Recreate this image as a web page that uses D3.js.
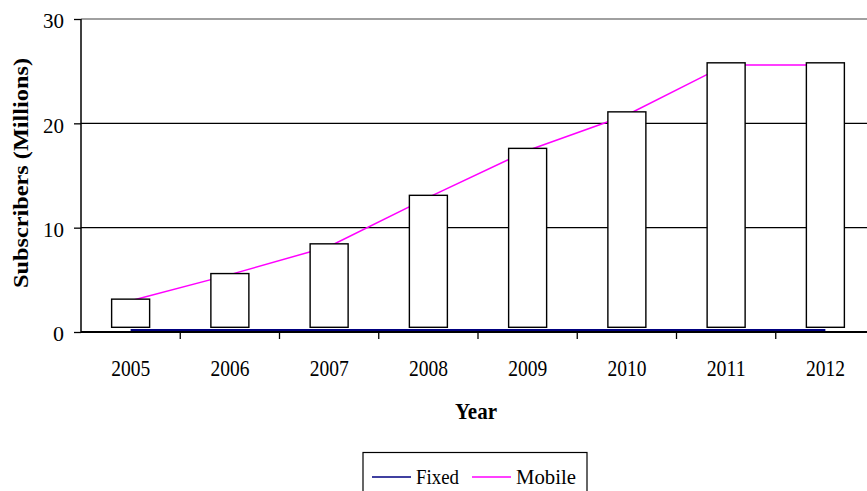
<!DOCTYPE html>
<html><head><meta charset="utf-8">
<script src="https://cdn.jsdelivr.net/npm/d3@7/dist/d3.min.js"></script>
<style>body{margin:0;background:#fff}svg{display:block}</style>
</head><body><svg id="c" width="867" height="491"></svg>
<script>
const years = ["2005","2006","2007","2008","2009","2010","2011","2012"];
const fixed = [0.18,0.18,0.18,0.18,0.18,0.18,0.18,0.18];
const mobile = [3.0,5.5,8.2,12.9,17.4,20.8,25.6,25.6];
const barLow = [0.45,0.45,0.45,0.45,0.45,0.45,0.45,0.45];
const barHigh = [3.15,5.6,8.45,13.1,17.6,21.1,25.8,25.8];
const yTicks = [0,10,20,30];

const FONT = "'Liberation Serif', 'Times New Roman', Times, serif";
const svg = d3.select("#c").attr("font-family", FONT);
const x = d3.scaleBand().domain(years).range([81,875]).padding(0);
const y = d3.scaleLinear().domain([0,30]).range([332,19]);
const cx = d => x(d)+x.bandwidth()/2;

// gridlines
svg.append("g").selectAll("line").data(yTicks.filter(v=>v>0)).join("line")
  .attr("x1",81).attr("x2",875).attr("y1",d=>y(d)).attr("y2",d=>y(d))
  .attr("stroke",d=>d===30?"#808080":"#000").attr("stroke-width",d=>d===30?1.5:1.3);

// lines
const line = d3.line().x((d,i)=>cx(years[i])).y(d=>y(d));
svg.append("path").datum(mobile).attr("d",line).attr("fill","none").attr("stroke","#FF00FF").attr("stroke-width",1.5);
svg.append("path").datum(fixed).attr("d",line).attr("fill","none").attr("stroke","#000080").attr("stroke-width",2);

// up-down bars
const bw = 38;
svg.append("g").selectAll("rect").data(years).join("rect")
  .attr("x",d=>cx(d)-bw/2).attr("width",bw)
  .attr("y",(d,i)=>y(barHigh[i])).attr("height",(d,i)=>y(barLow[i])-y(barHigh[i]))
  .attr("fill","#fff").attr("stroke","#000").attr("stroke-width",1.4);

// y axis
const ya = d3.axisLeft(y).tickValues(yTicks).tickSize(7).tickPadding(10);
const gy = svg.append("g").attr("transform","translate(81,0)").call(ya);
gy.attr("font-family", FONT).attr("font-size", 22);
gy.select(".domain").attr("stroke","#000").attr("stroke-width",1.5).attr("d","M0,19V332");
gy.selectAll(".tick line").attr("stroke","#000").attr("stroke-width",1.3);
gy.selectAll("text").attr("fill","#000").attr("dy","0.4em")
  .attr("textLength",21).attr("lengthAdjust","spacingAndGlyphs");
gy.selectAll(".tick").filter(d=>d===0).select("text").attr("textLength",11);

// x axis
const xa = d3.axisBottom(x).tickSize(0).tickPadding(0);
const gx = svg.append("g").attr("transform","translate(0,332)").call(xa);
gx.attr("font-family", FONT).attr("font-size", 23);
gx.select(".domain").attr("stroke","#000").attr("stroke-width",2.2).attr("d","M81,0H875");
gx.selectAll(".tick text").attr("fill","#000").attr("y",44).attr("dy",null)
  .attr("textLength",39).attr("lengthAdjust","spacingAndGlyphs");
gx.selectAll(".xt").data(years).join("line").attr("class","xt")
  .attr("x1",d=>x(d)+x.bandwidth()).attr("x2",d=>x(d)+x.bandwidth())
  .attr("y1",0).attr("y2",7).attr("stroke","#000").attr("stroke-width",1.3);

// titles
svg.append("text").attr("x",476).attr("y",419).attr("text-anchor","middle")
  .attr("font-size",23).attr("font-weight","bold")
  .attr("textLength",42).attr("lengthAdjust","spacingAndGlyphs").text("Year");
svg.append("text").attr("transform","translate(28,173) rotate(-90)").attr("text-anchor","middle")
  .attr("font-size",22).attr("font-weight","bold")
  .attr("textLength",230).attr("lengthAdjust","spacingAndGlyphs").text("Subscribers (Millions)");

// legend
const lg = svg.append("g");
lg.append("rect").attr("x",363).attr("y",452.5).attr("width",224).attr("height",50)
  .attr("fill","#fff").attr("stroke","#000").attr("stroke-width",1.2);
const items = [{n:"Fixed",c:"#000080",x:372,w:43},{n:"Mobile",c:"#FF00FF",x:472,w:60}];
items.forEach(it=>{
  lg.append("line").attr("x1",it.x).attr("x2",it.x+39).attr("y1",477).attr("y2",477)
    .attr("stroke",it.c).attr("stroke-width",1.5);
  lg.append("text").attr("x",it.x+44).attr("y",484).attr("font-size",22)
    .attr("textLength",it.w).attr("lengthAdjust","spacingAndGlyphs").text(it.n);
});
</script></body></html>
